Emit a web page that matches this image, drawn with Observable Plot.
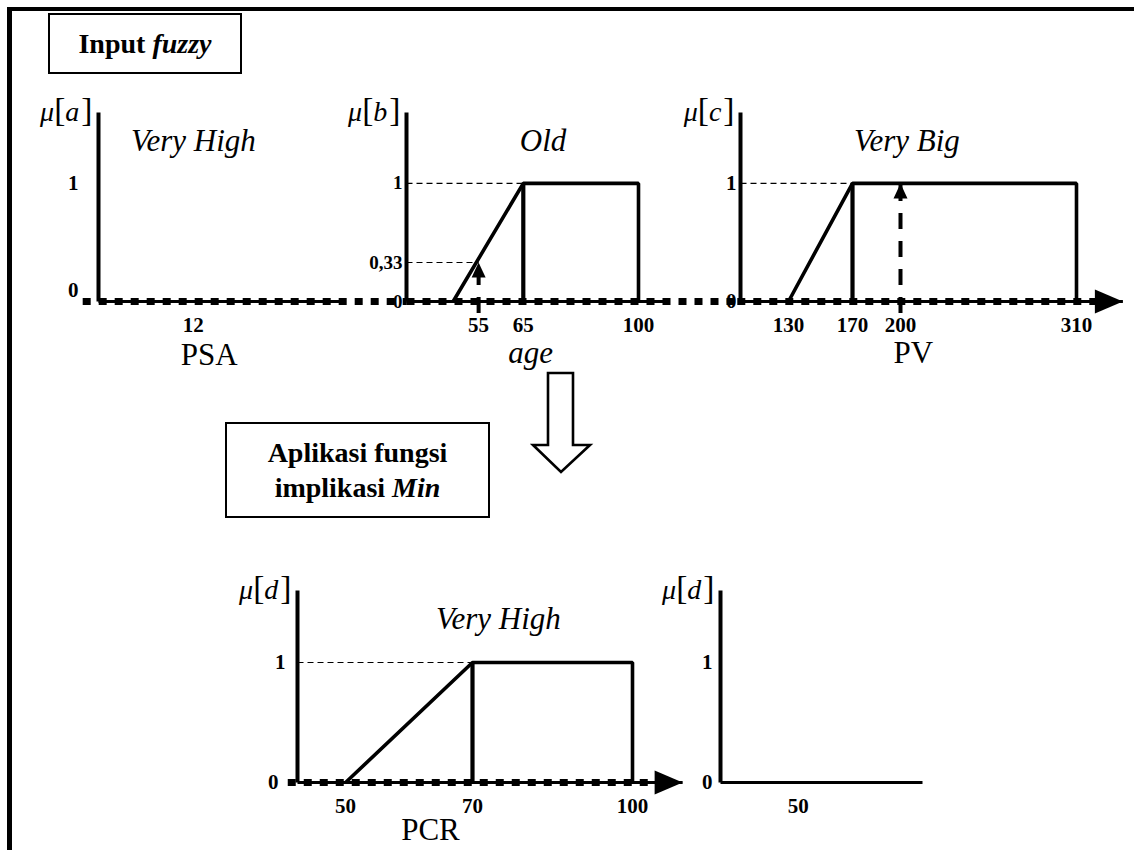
<!DOCTYPE html>
<html>
<head>
<meta charset="utf-8">
<script src="https://cdn.jsdelivr.net/npm/d3@7"></script>
<script src="https://cdn.jsdelivr.net/npm/@observablehq/plot@0.6"></script>
<style>
  body { margin: 0; background: #fff; }
  #root { position: relative; width: 1134px; height: 850px; overflow: hidden; background: #fff;
          font-family: "Liberation Serif", "Times New Roman", serif; color: #000; }
  .frame { position: absolute; left: 7px; top: 7px; width: 1140px; height: 900px;
           border-top: 4px solid #000; border-left: 5px solid #000; }
  .box { position: absolute; box-sizing: border-box; border: 2.5px solid #000; background: #fff;
         display: flex; align-items: center; justify-content: center; text-align: center;
         font-weight: bold; font-size: 28px; line-height: 35px; }
</style>
</head>
<body>
<div id="root">
  <div class="frame"></div>
  <div class="box" style="left:48px;top:13px;width:194px;height:61px;"><span>Input <i>fuzzy</i></span></div>
  <div class="box" style="left:225px;top:422px;width:265px;height:96px;"><span>Aplikasi fungsi<br>implikasi <i>Min</i></span></div>
  <svg style="position:absolute;left:528px;top:370px;" width="66" height="106">
    <polygon points="20,3 45,3 45,75 62,75 33,102 5,75 20,75" fill="#fff" stroke="#000" stroke-width="2.6" stroke-linejoin="miter"/>
  </svg>
</div>
<script>
// ---------------- data ----------------
const muTicks = [0, 1];
const muAxis = [0, 1.6];
const muLabels = ["μ[a]", "μ[b]", "μ[c]", "μ[d]", "μ[d]"];
const setNames = ["Very High", "Old", "Very Big", "Very High"];
const axisNames = ["PSA", "age", "PV", "PCR"];

// Panel A : PSA (Very High)
const psaDomain = [0, 31];
const psaTicks = [12];
const psaAxis = [0, 31];
const psaConnector = [-2, 39];

// Panel B : age (Old)
const ageDomain = [42, 100];
const ageTicks = [55, 65, 100];
const ageMuTicks = [0, 0.33, 1];
const oldX = [50, 65, 100, 100];
const oldMu = [0, 1, 1, 0];
const ageInput = [55];
const ageInputMu = [0.33];
const ageAxis = [42, 112];
const ageConnector = [42, 146];

// Panel C : PV (Very Big)
const pvDomain = [100, 310];
const pvTicks = [130, 170, 200, 310];
const bigX = [130, 170, 310, 310];
const bigMu = [0, 1, 1, 0];
const pvInput = [200];
const pvInputMu = [1];
const pvAxis = [100, 339];
const pvConnector = [98, 322];

// Panel D : PCR (Very High)
const pcrDomain = [43.3, 100];
const pcrTicks = [50, 70, 100];
const highX = [50, 70, 100, 100];
const highMu = [0, 1, 1, 0];
const pcrAxis = [43.3, 110.5];
const pcrConnector = [42, 106];

// Panel E : PCR result
const pcr2Domain = [0, 130];
const pcr2Ticks = [50];
const pcr2Axis = [0, 130];

// ---------------- helpers ----------------
const SERIF = '"Liberation Serif", "Times New Roman", serif';
const root = document.getElementById("root");
const seg = (xs, ys) => xs.map((x, i) => ({x, y: ys[i]}));
const fmt = d => String(d).replace(".", ",");
const headUp = {draw(c) { c.moveTo(0, 0); c.lineTo(-7, 15); c.lineTo(7, 15); c.closePath(); }};
const headRight = {draw(c) { c.moveTo(0, 0); c.lineTo(-28, -12); c.lineTo(-28, 12); c.closePath(); }};
const TICK = {fontSize: 21, fontWeight: "bold", fontFamily: SERIF, fill: "#000"};

function place(svg, left, top) {
  svg.style.position = "absolute";
  svg.style.left = left + "px";
  svg.style.top = top + "px";
  // μ[x] labels: upright brackets, italic symbols
  svg.querySelectorAll("text").forEach(t => {
    const s = t.textContent;
    const m = /^μ\[(.)\]$/.exec(s);
    if (!m) return;
    t.textContent = "";
    const parts = [["μ", "italic", "1em"], ["[", "normal", "1.2em"], [m[1], "italic", "1em"], ["]", "normal", "1.2em"]];
    for (const [txt, st, fs] of parts) {
      const ts = document.createElementNS("http://www.w3.org/2000/svg", "tspan");
      ts.textContent = txt;
      ts.setAttribute("font-style", st);
      ts.setAttribute("font-size", fs);
      if (txt === "]") ts.setAttribute("dx", "2");
      t.appendChild(ts);
    }
  });
  root.appendChild(svg);
}

function line(data, opts) {
  return Plot.line(data, {x: "x", y: "y", stroke: "#000", strokeLinejoin: "miter", strokeLinecap: "butt", ...opts});
}

function xTickLabels(ticks) {
  return Plot.text(ticks, {x: d => d, frameAnchor: "bottom", dy: 30, text: fmt, ...TICK});
}

function yTickLabels(ticks, pad, extra = {}) {
  return Plot.text(ticks, {y: d => d, frameAnchor: "left", dx: -pad, textAnchor: "end", text: fmt, ...TICK, ...extra});
}

function baseMarks(o) {
  const m = [];
  m.push(line(seg(o.axis, [0, 0]), {strokeWidth: 3.2}));
  if (o.connector) m.push(line(seg(o.connector, [0, 0]), {strokeWidth: 7, strokeDasharray: "8,8"}));
  if (o.arrow) m.push(Plot.dot([0], {x: [o.axis[1]], y: [0], symbol: headRight, fill: "#000", stroke: "none", r: 5}));
  m.push(line(seg([o.axis[0], o.axis[0]], muAxis), {strokeWidth: 4}));
  m.push(Plot.text([o.mu], {x: [o.axis[0]], y: [muAxis[1]], text: d => d, textAnchor: "end", dx: -6,
    fontSize: 28, fontFamily: SERIF, fill: "#000"}));
  m.push(xTickLabels(o.ticks));
  if (o.name) m.push(Plot.text([o.name], {x: [o.nameX], y: [0], dy: o.nameDy, text: d => d,
    fontSize: 31, fontStyle: o.nameItalic ? "italic" : "normal", fontFamily: SERIF, fill: "#000"}));
  if (o.set) m.push(Plot.text([o.set], {x: [o.setX], y: [1.36], text: d => d,
    fontSize: 31, fontStyle: "italic", fontFamily: SERIF, fill: "#000"}));
  return m;
}

function trapezoid(xs, mus, peakX, x0) {
  return [
    line(seg([x0, peakX], [1, 1]), {strokeWidth: 1.2, strokeDasharray: "6,4"}),
    line(seg(xs, mus), {strokeWidth: 3.6}),
    line(seg([peakX, peakX], [0, 1]), {strokeWidth: 4.2})
  ];
}

function inputArrow(xs, mus) {
  return [
    Plot.ruleX(xs, {y1: 0, y2: mus, stroke: "#000", strokeWidth: 4, strokeDasharray: "16,12", insetTop: 12}),
    Plot.dot(xs, {x: d => d, y: mus, symbol: headUp, fill: "#000", stroke: "none", r: 5})
  ];
}

function make(o) {
  const svg = Plot.plot({
    width: o.width, height: 270,
    marginLeft: o.ml, marginRight: o.mr, marginTop: 12, marginBottom: o.mb,
    x: {type: o.xType || "linear", domain: o.domain, axis: null},
    y: {domain: muAxis, axis: null},
    style: {background: "transparent", overflow: "visible", fontFamily: SERIF, color: "#000"},
    marks: o.marks
  });
  place(svg, o.left, o.top);
}

// ---------------- Panel A ----------------
make({
  left: 20, top: 100, width: 380, ml: 78, mr: 57, mb: 69, domain: psaDomain,
  marks: [
    ...baseMarks({axis: psaAxis, connector: psaConnector, ticks: psaTicks, mu: muLabels[0],
      name: axisNames[0], nameX: 14, nameDy: 54, set: setNames[0], setX: 12}),
    yTickLabels([muTicks[1]], 20),
    yTickLabels([muTicks[0]], 20, {dy: -11})
  ]
});

// ---------------- Panel B ----------------
make({
  left: 330, top: 100, width: 380, ml: 76, mr: 72, mb: 69, domain: ageDomain, xType: "log",
  marks: [
    line(seg([ageDomain[0], ageInput[0]], [ageInputMu[0], ageInputMu[0]]), {strokeWidth: 1.2, strokeDasharray: "6,4"}),
    ...trapezoid(oldX, oldMu, 65, ageDomain[0]),
    ...baseMarks({axis: ageAxis, connector: ageConnector, ticks: ageTicks, mu: muLabels[1],
      name: axisNames[1], nameX: 66.8, nameDy: 52, nameItalic: true, set: setNames[1], setX: 70}),
    ...inputArrow(ageInput, ageInputMu),
    yTickLabels(ageMuTicks, 4, {fontSize: 19})
  ]
});

// ---------------- Panel C ----------------
make({
  left: 660, top: 100, width: 474, ml: 80, mr: 58, mb: 69, domain: pvDomain,
  marks: [
    ...trapezoid(bigX, bigMu, 170, pvDomain[0]),
    ...baseMarks({axis: pvAxis, connector: pvConnector, ticks: pvTicks, mu: muLabels[2], arrow: true,
      name: axisNames[2], nameX: 208, nameDy: 52, set: setNames[2], setX: 204}),
    ...inputArrow(pvInput, pvInputMu),
    yTickLabels(muTicks, 4)
  ]
});

// ---------------- Panel D ----------------
make({
  left: 200, top: 578, width: 500, ml: 97, mr: 68, mb: 66, domain: pcrDomain, xType: "sqrt",
  marks: [
    ...trapezoid(highX, highMu, 70, pcrDomain[0]),
    ...baseMarks({axis: pcrAxis, connector: pcrConnector, ticks: pcrTicks, mu: muLabels[3], arrow: true,
      name: axisNames[3], nameX: 63, nameDy: 48, set: setNames[3], setX: 74.5}),
    yTickLabels([muTicks[1]], 12),
    yTickLabels([muTicks[0]], 19)
  ]
});

// ---------------- Panel E ----------------
make({
  left: 640, top: 578, width: 340, ml: 80, mr: 58, mb: 66, domain: pcr2Domain,
  marks: [
    ...baseMarks({axis: pcr2Axis, ticks: pcr2Ticks, mu: muLabels[4]}),
    yTickLabels(muTicks, 8)
  ]
});
</script>
</body>
</html>
